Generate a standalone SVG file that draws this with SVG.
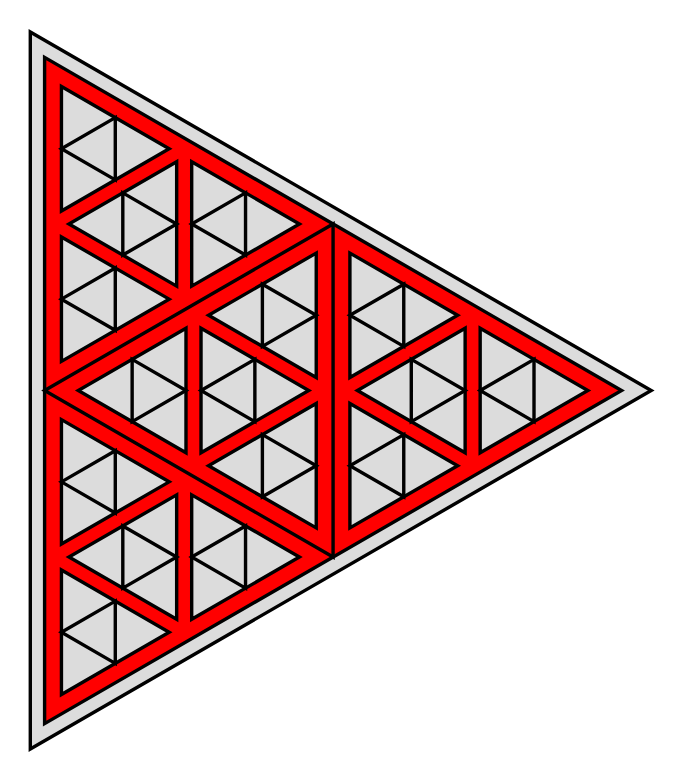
<svg xmlns="http://www.w3.org/2000/svg" width="684" height="782" viewBox="0 0 684 782">
<style>
.k{stroke:#000;stroke-width:3.4;stroke-linejoin:miter}
.gray{fill:#dcdcdc}
.red{fill:#ff0000}
.none{fill:none}
</style>
<defs>
<g id="tri">
<polygon class="k gray" points="-35.9,-62.2 -35.9,62.2 71.8,0"/>
<polygon class="k none" points="-35.9,0 17.95,-31.1 17.95,31.1"/>
</g>
</defs>
<g id="outer">
<polygon class="k gray" points="30.3,32 30.3,749 651.2,390.5"/>
</g>
<g id="band">
<polygon class="k red" points="44.6,57.4 44.6,723.6 621.55,390.5"/>
<polygon class="k none" points="44.6,390.5 333.075,223.95 333.075,557.05"/>
</g>
<g id="top-left">
<use href="#tri" transform="translate(97.34,148.75)"/>
<use href="#tri" transform="translate(97.34,299.15)"/>
<use href="#tri" transform="translate(227.59,223.95)"/>
<use href="#tri" transform="translate(140.76,223.95) scale(-1,1)"/>
</g>
<g id="bottom-left">
<use href="#tri" transform="translate(97.34,481.85)"/>
<use href="#tri" transform="translate(97.34,632.25)"/>
<use href="#tri" transform="translate(227.59,557.05)"/>
<use href="#tri" transform="translate(140.76,557.05) scale(-1,1)"/>
</g>
<g id="right">
<use href="#tri" transform="translate(385.81,315.3)"/>
<use href="#tri" transform="translate(385.81,465.7)"/>
<use href="#tri" transform="translate(516.06,390.5)"/>
<use href="#tri" transform="translate(429.23,390.5) scale(-1,1)"/>
</g>
<g id="middle">
<use href="#tri" transform="translate(280.34,315.3) scale(-1,1)"/>
<use href="#tri" transform="translate(280.34,465.7) scale(-1,1)"/>
<use href="#tri" transform="translate(150.09,390.5) scale(-1,1)"/>
<use href="#tri" transform="translate(236.92,390.5)"/>
</g>
</svg>
